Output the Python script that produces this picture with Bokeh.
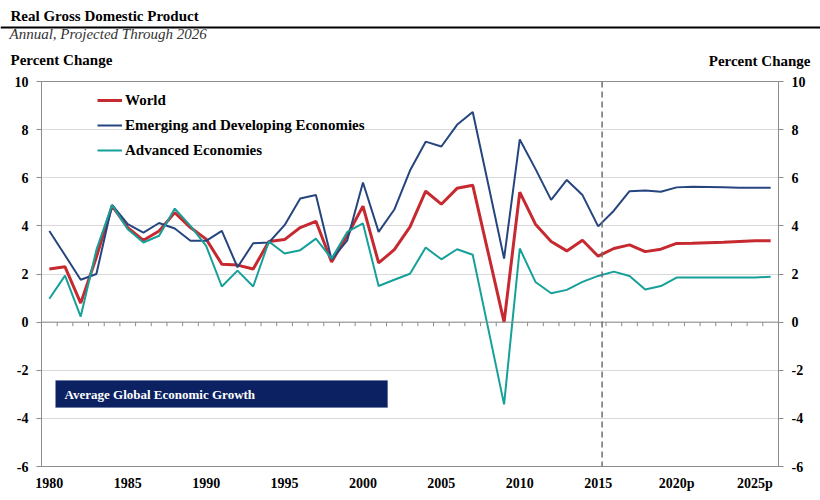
from bokeh.plotting import figure
from bokeh.layouts import column
from bokeh.models import (Range1d, LinearAxis, FixedTicker, Span, Label,
                          BoxAnnotation, Legend, LegendItem)
from bokeh.embed import file_html
from bokeh.resources import INLINE

# ---------------- data ----------------
years = list(range(1980, 2027))
world = [2.21, 2.30, 0.79, 2.70, 4.83, 3.93, 3.40, 3.79, 4.55, 3.93,
         3.45, 2.41, 2.37, 2.21, 3.35, 3.43, 3.93, 4.19, 2.50, 3.60,
         4.82, 2.46, 3.01, 3.96, 5.44, 4.90, 5.56, 5.69, 2.85, 0.00,
         5.40, 4.07, 3.35, 2.96, 3.40, 2.74, 3.06, 3.21, 2.93, 3.03,
         3.27, 3.28, 3.30, 3.32, 3.35, 3.38, 3.38]
emerging = [3.79, 2.78, 1.76, 2.00, 4.87, 4.07, 3.72, 4.12, 3.89, 3.38,
            3.38, 3.79, 2.28, 3.28, 3.31, 4.03, 5.14, 5.28, 2.60, 3.40,
            5.80, 3.75, 4.68, 6.30, 7.50, 7.30, 8.20, 8.73, 5.70, 2.64,
            7.59, 6.37, 5.08, 5.91, 5.28, 3.98, 4.63, 5.44, 5.47, 5.42,
            5.60, 5.63, 5.62, 5.61, 5.58, 5.58, 5.58]
advanced = [0.97, 1.93, 0.23, 3.00, 4.87, 3.86, 3.31, 3.59, 4.72, 4.00,
            3.17, 1.48, 2.14, 1.48, 3.35, 2.85, 2.99, 3.47, 2.64, 3.75,
            4.10, 1.50, 1.76, 2.01, 3.10, 2.61, 3.03, 2.80, -0.30, -3.42,
            3.06, 1.67, 1.20, 1.34, 1.67, 1.92, 2.10, 1.92, 1.36, 1.50,
            1.85, 1.85, 1.85, 1.85, 1.85, 1.85, 1.89]
series_names = ["World", "Emerging and Developing Economies", "Advanced Economies"]
x_ticks = [1980, 1985, 1990, 1995, 2000, 2005, 2010, 2015, 2020, 2025]
x_tick_labels = ["1980", "1985", "1990", "1995", "2000", "2005", "2010", "2015", "2020p", "2025p"]
y_ticks = [-6, -4, -2, 0, 2, 4, 6, 8, 10]
y_tick_labels = ["-6", "-4", "-2", "0", "2", "4", "6", "8", "10"]
projection_start = 2015.25
assert len(world) == len(emerging) == len(advanced) == len(years)

title_text = "Real Gross Domestic Product"
subtitle_text = "Annual, Projected Through 2026"
unit_text = "Percent Change"
box_text = "Average Global Economic Growth"

RED = "#c62a30"
BLUE = "#26457f"
TEAL = "#16a09a"
NAVY = "#0b2161"
AXIS = "#8c8c8c"
FONT = "Liberation Serif"

W = 820
HEAD = 71      # header strip height
MAIN_H = 500 - HEAD

# ---------------- header strip ----------------
head = figure(width=W, height=HEAD, output_backend="svg", toolbar_location=None,
              x_range=Range1d(0, W), y_range=Range1d(HEAD, 0),
              x_axis_type=None, y_axis_type=None,
              min_border=0, min_border_left=0, min_border_right=0,
              min_border_top=0, min_border_bottom=0,
              background_fill_color="white", border_fill_color="white")
head.frame_align = False
head.title.visible = False
head.outline_line_color = None
head.add_layout(Label(x=10, y=15, text=title_text, text_font=FONT,
                      text_font_style="bold", text_font_size="15px",
                      text_color="black", text_baseline="middle"))
head.add_layout(Span(location=27, dimension="width", line_color="black", line_width=2))
head.add_layout(Label(x=9, y=33, text=subtitle_text, text_font=FONT,
                      text_font_style="italic", text_font_size="15px",
                      text_color="#333333", text_baseline="middle"))
head.add_layout(Label(x=10, y=59, text=unit_text, text_font=FONT,
                      text_font_style="bold", text_font_size="15px",
                      text_color="black", text_baseline="middle"))
head.add_layout(Label(x=810, y=60, text=unit_text, text_font=FONT, text_align="right",
                      text_font_style="bold", text_font_size="15px",
                      text_color="black", text_baseline="middle"))

# ---------------- main chart ----------------
p = figure(width=W, height=MAIN_H, output_backend="svg", toolbar_location=None,
           x_range=Range1d(1979.5, 2026.5), y_range=Range1d(-6, 10),
           min_border_left=41, min_border_right=42, min_border_top=81 - HEAD,
           min_border_bottom=34, background_fill_color="white",
           border_fill_color="white")
p.frame_align = False
p.title.visible = False
p.outline_line_color = AXIS

p.xgrid.visible = False
p.ygrid.ticker = FixedTicker(ticks=y_ticks)
p.ygrid.grid_line_color = "#d9d9d9"

def style_y(ax):
    ax.ticker = FixedTicker(ticks=y_ticks)
    ax.major_label_overrides = {t: l for t, l in zip(y_ticks, y_tick_labels)}
    ax.major_tick_out = 5
    ax.major_tick_in = 0
    ax.minor_tick_out = 0
    ax.minor_tick_in = 0
    ax.axis_line_color = AXIS
    ax.major_tick_line_color = AXIS
    ax.major_label_text_font = FONT
    ax.major_label_text_font_style = "bold"
    ax.major_label_text_font_size = "14px"
    ax.major_label_text_color = "black"
    ax.major_label_standoff = 8

style_y(p.yaxis[0])
right_ax = LinearAxis()
style_y(right_ax)
p.add_layout(right_ax, "right")

xa = p.xaxis[0]
xa.ticker = FixedTicker(ticks=x_ticks)
xa.major_label_overrides = {t: l for t, l in zip(x_ticks, x_tick_labels)}
xa.major_tick_out = 0
xa.major_tick_in = 0
xa.minor_tick_out = 0
xa.minor_tick_in = 0
xa.axis_line_color = AXIS
xa.major_label_text_font = FONT
xa.major_label_text_font_style = "bold"
xa.major_label_text_font_size = "14px"
xa.major_label_text_color = "black"
xa.major_label_standoff = 9

# zero line with year ticks
p.add_layout(Span(location=0, dimension="width", line_color=AXIS, line_width=1))
bounds = [y + 0.5 for y in years[:-1]]
p.segment(x0=bounds, y0=[0] * len(bounds), x1=bounds, y1=[-0.17] * len(bounds),
          line_color=AXIS, line_width=1)

# projection divider
p.add_layout(Span(location=projection_start, dimension="height", line_color="#6e6e6e",
                  line_dash="6 4", line_width=1.5))

# series
r_w = p.line(years, world, line_color=RED, line_width=3)
r_e = p.line(years, emerging, line_color=BLUE, line_width=2)
r_a = p.line(years, advanced, line_color=TEAL, line_width=2)

legend = Legend(items=[LegendItem(label=series_names[0], renderers=[r_w]),
                       LegendItem(label=series_names[1], renderers=[r_e]),
                       LegendItem(label=series_names[2], renderers=[r_a])],
                location=(56, 306), glyph_width=25, glyph_height=20, spacing=5,
                label_standoff=3, padding=0, margin=0,
                background_fill_alpha=0, border_line_alpha=0,
                label_text_font=FONT, label_text_font_style="bold",
                label_text_font_size="15px", label_text_color="black")
p.add_layout(legend)

# annotation box
p.add_layout(BoxAnnotation(left=1980.4, right=2001.57, bottom=-3.55, top=-2.43,
                           fill_color=NAVY, fill_alpha=1, line_color="#3c5288",
                           line_width=1))
p.add_layout(Label(x=1980.97, y=-3.0, text=box_text,
                   text_font=FONT, text_font_style="bold", text_font_size="13px",
                   text_color="white", text_baseline="middle"))

layout = column(head, p, spacing=0)
open("out.html", "w").write(file_html(layout, INLINE))
